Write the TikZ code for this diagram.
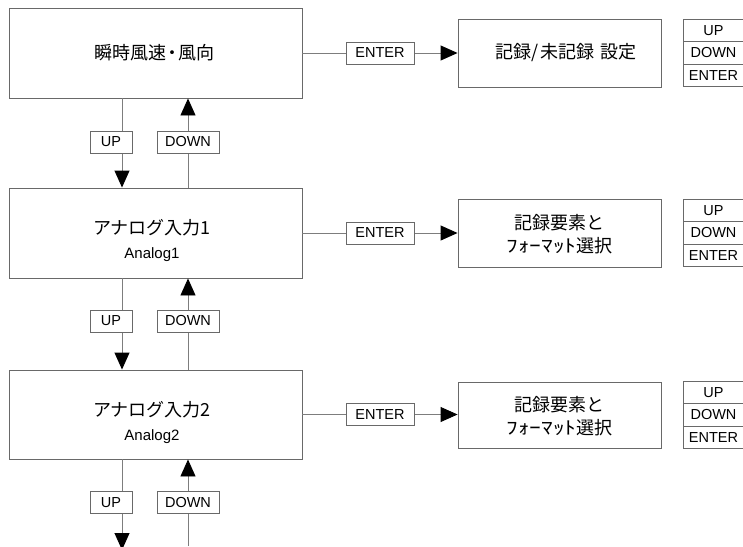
\documentclass[tikz,border=0pt]{standalone}
\usepackage{fontspec}
\setmainfont{Liberation Sans}
\newfontfamily\cjk{Noto Sans CJK JP}
\usetikzlibrary{arrows.meta}
\definecolor{ln}{RGB}{125,125,125}
\definecolor{bd}{RGB}{105,105,105}
\newcommand{\wkata}[1]{\scalebox{1.3}[1]{#1}}
\begin{document}
\begin{tikzpicture}[x=1pt,y=-1pt,
  mainbox/.style={draw=bd, line width=0.9pt, fill=white, minimum width=293pt, minimum height=90pt, inner sep=0pt},
  subbox/.style={draw=bd, line width=0.9pt, fill=white, minimum width=203pt, minimum height=68pt, inner sep=0pt},
  keybox/.style={draw=bd, line width=0.8pt, fill=white, minimum height=22pt, inner sep=0pt, font=\fontsize{14.5}{16}\selectfont},
  upbox/.style={keybox, minimum width=42pt},
  downbox/.style={keybox, minimum width=62pt},
  enterbox/.style={keybox, minimum width=68pt},
  tabcell/.style={keybox, minimum width=61pt, minimum height=22.5pt},
  jtext/.style={font=\cjk\fontsize{18}{23}\selectfont, align=center, inner sep=0pt},
  ltext/.style={font=\fontsize{15}{17}\selectfont, inner sep=0pt},
  conn/.style={draw=ln, line width=0.9pt},
  arr/.style={conn, -{Triangle[length=17pt,width=15pt,color=black]}}
]
\useasboundingbox (0,0) rectangle (743,546);

% main boxes
\node[mainbox] (b1) at (155.5,53) {};
\node[mainbox] (b2) at (155.5,233) {};
\node[mainbox, minimum height=89pt] (b3) at (155.5,414.5) {};
\node[jtext] (t1) at (154,53) {瞬時風速\makebox[12pt]{・}風向};
\node[jtext] (t2a) at (152,228) {アナログ入力1};
\node[ltext] (t2b) at (152,255) {Analog1};
\node[jtext] (t3a) at (152,410) {アナログ入力2};
\node[ltext] (t3b) at (152,437) {Analog2};

% right boxes
\node[subbox] (r1) at (559.5,53) {};
\node[subbox] (r2) at (559.5,233) {};
\node[subbox, minimum height=66pt] (r3) at (559.5,415) {};
\node[jtext] (s1) at (566,53) {記録\makebox[9pt]{/}未記録\hspace{7pt}設定};
\node[jtext] (s2) at (559.5,234) {記録要素と\\\wkata{ﾌｫｰﾏｯﾄ}選択};
\node[jtext] (s3) at (559.5,416) {記録要素と\\\wkata{ﾌｫｰﾏｯﾄ}選択};

% bottom free ends
\coordinate (endup) at (122,550);
\coordinate (enddn) at (188,546);

% connectors
\draw[arr] (b1.south -| endup) -- (b2.north -| endup);
\draw[arr] (b2.north -| enddn) -- (b1.south -| enddn);
\draw[arr] (b2.south -| endup) -- (b3.north -| endup);
\draw[arr] (b3.north -| enddn) -- (b2.south -| enddn);
\draw[arr] (b3.south -| endup) -- (endup);
\draw[arr] (enddn) -- (b3.south -| enddn);
\draw[arr] (b1.east) -- (r1.west);
\draw[arr] (b2.east) -- (r2.west |- b2.east);
\draw[arr] (b3.east) -- (r3.west |- b3.east);

% key labels on connectors
\foreach \i/\y in {1/142, 2/321, 3/502.5}{
  \node[upbox] (up\i) at (111,\y) {UP};
  \node[downbox] (dn\i) at (188,\y) {DOWN};
}
\node[enterbox] (en1) at (380,53) {ENTER};
\node[enterbox] (en2) at (380,233) {ENTER};
\node[enterbox] (en3) at (380,414.5) {ENTER};

% key tables
\foreach \i/\y in {1/53, 2/233, 3/415}{
  \node[tabcell] (ku\i) at (713.5,\y-22.5) {UP};
  \node[tabcell] (kd\i) at (713.5,\y) {DOWN};
  \node[tabcell] (ke\i) at (713.5,\y+22.5) {ENTER};
}
\end{tikzpicture}
\end{document}
